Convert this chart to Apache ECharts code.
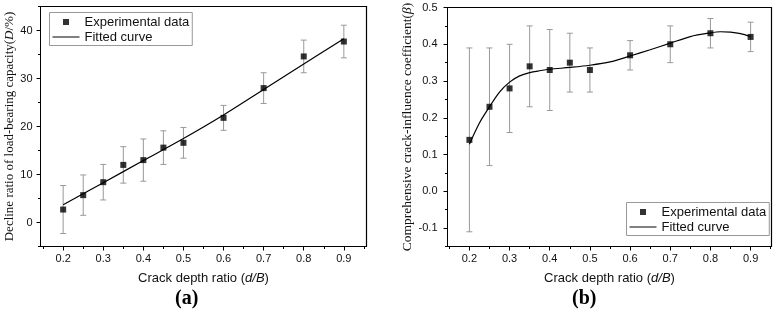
<!DOCTYPE html>
<html>
<head>
<meta charset="utf-8">
<title>Crack depth ratio</title>
<script src="https://cdn.jsdelivr.net/npm/echarts@6/dist/echarts.min.js"></script>
<style>
    html, body { margin: 0; padding: 0; background: #fff; }
    #container { width: 777px; height: 313px; }
</style>
</head>
<body>
<div id="container"></div>
<script>
// 数据 (a): 承载力下降率
var ratioA = [0.2, 0.25, 0.3, 0.35, 0.4, 0.45, 0.5, 0.6, 0.7, 0.8, 0.9];
var declineA = [2.7, 5.7, 8.4, 12.0, 13.0, 15.6, 16.6, 21.8, 28.0, 34.6, 37.7];
var errA = [5.0, 4.2, 3.7, 3.8, 4.4, 3.5, 3.2, 2.6, 3.2, 3.4, 3.4];
var fitXA = [0.2, 0.3, 0.4, 0.5, 0.6, 0.7, 0.8, 0.9];
var fitYA = [3.7, 8.3, 12.9, 17.5, 22.4, 27.7, 33.0, 38.3];

// 数据 (b): 综合裂缝影响系数
var ratioB = [0.2, 0.25, 0.3, 0.35, 0.4, 0.45, 0.5, 0.6, 0.7, 0.8, 0.9];
var coefB = [0.14, 0.23, 0.28, 0.34, 0.33, 0.35, 0.33, 0.37, 0.40, 0.43, 0.42];
var errB = [0.25, 0.16, 0.12, 0.11, 0.11, 0.08, 0.06, 0.04, 0.05, 0.04, 0.04];
var fitXB = [0.2, 0.225, 0.25, 0.275, 0.3, 0.325, 0.35, 0.375, 0.4, 0.45, 0.5, 0.55, 0.6, 0.65, 0.7, 0.75, 0.8, 0.825, 0.85, 0.875, 0.9];
var fitYB = [0.128, 0.186, 0.23, 0.27, 0.297, 0.314, 0.323, 0.328, 0.332, 0.337, 0.343, 0.352, 0.368, 0.385, 0.403, 0.421, 0.431, 0.434, 0.433, 0.429, 0.421];

// 刻度
var xLabels = [0.2, 0.3, 0.4, 0.5, 0.6, 0.7, 0.8, 0.9];
var xMinor = [0.15, 0.25, 0.35, 0.45, 0.55, 0.65, 0.75, 0.85, 0.95];
var yLabelsA = [0, 10, 20, 30, 40];
var yMinorA = [-5, 5, 15, 25, 35, 45];
var yLabelsB = [-0.1, 0.0, 0.1, 0.2, 0.3, 0.4, 0.5];
var yMinorB = [-0.15, -0.05, 0.05, 0.15, 0.25, 0.35, 0.45];

var sans = 'Liberation Sans, Arial, sans-serif';
var serif = 'Liberation Serif, Times New Roman, serif';

function zip(xs, ys) {
    var out = [];
    for (var i = 0; i < xs.length; i++) { out.push([xs[i], ys[i]]); }
    return out;
}
function errRows(xs, ys, es) {
    var out = [];
    for (var i = 0; i < xs.length; i++) { out.push([xs[i], ys[i] - es[i], ys[i] + es[i]]); }
    return out;
}

// 误差棒
function renderErrorBar(params, api) {
    var x = api.value(0);
    var lo = api.coord([x, api.value(1)]);
    var hi = api.coord([x, api.value(2)]);
    var half = 3;
    var st = { stroke: '#999', lineWidth: 1 };
    return {
        type: 'group',
        children: [
            { type: 'line', shape: { x1: lo[0], y1: lo[1], x2: hi[0], y2: hi[1] }, style: st },
            { type: 'line', shape: { x1: hi[0] - half, y1: hi[1], x2: hi[0] + half, y2: hi[1] }, style: st },
            { type: 'line', shape: { x1: lo[0] - half, y1: lo[1], x2: lo[0] + half, y2: lo[1] }, style: st }
        ]
    };
}

function mainX(grid, min, max) {
    return {
        type: 'value', gridIndex: grid, position: 'bottom', min: min, max: max,
        axisLine: { onZero: false, lineStyle: { color: '#000', width: 1 } },
        axisTick: { inside: false, length: 4, customValues: xLabels, lineStyle: { color: '#000' } },
        axisLabel: { customValues: xLabels, margin: 7, color: '#111', fontSize: 11, fontFamily: sans,
            formatter: function (v) { return v.toFixed(1); } },
        splitLine: { show: false },
        name: '{n|Crack depth ratio (}{i|d/B}{n|)}',
        nameLocation: 'middle', nameGap: 25,
        nameTextStyle: {
            rich: {
                n: { fontSize: 13, fontFamily: sans, color: '#111' },
                i: { fontSize: 13, fontFamily: sans, fontStyle: 'italic', color: '#111' }
            }
        }
    };
}
function minorX(grid, min, max) {
    return {
        type: 'value', gridIndex: grid, position: 'bottom', min: min, max: max,
        axisLine: { show: false, onZero: false },
        axisTick: { inside: false, length: 2.5, customValues: xMinor, lineStyle: { color: '#000' } },
        axisLabel: { show: false },
        splitLine: { show: false }
    };
}
// 边框线 (上/右)
function frameAxis(grid, pos, min, max) {
    return {
        type: 'value', gridIndex: grid, position: pos, min: min, max: max,
        axisLine: { show: true, onZero: false, lineStyle: { color: '#000', width: 1.2 } },
        axisTick: { show: false },
        axisLabel: { show: false },
        splitLine: { show: false }
    };
}
function mainY(grid, min, max, labels, digits, margin, name, size) {
    return {
        type: 'value', gridIndex: grid, position: 'left', min: min, max: max,
        axisLine: { show: true, onZero: false, lineStyle: { color: '#000', width: 1 } },
        axisTick: { show: true, inside: false, length: 4, customValues: labels, lineStyle: { color: '#000' } },
        axisLabel: { customValues: labels, margin: margin, color: '#111', fontSize: 11, fontFamily: sans,
            formatter: function (v) { return v.toFixed(digits); } },
        splitLine: { show: false },
        name: name, nameLocation: 'middle', nameGap: 24, nameRotate: 90,
        nameTextStyle: {
            rich: {
                n: { fontSize: size, fontFamily: serif, color: '#111' },
                i: { fontSize: size, fontFamily: serif, fontStyle: 'italic', color: '#111' }
            }
        }
    };
}
function minorY(grid, min, max, ticks) {
    return {
        type: 'value', gridIndex: grid, position: 'left', min: min, max: max,
        axisLine: { show: false, onZero: false },
        axisTick: { show: true, inside: false, length: 2.5, customValues: ticks, lineStyle: { color: '#000' } },
        axisLabel: { show: false },
        splitLine: { show: false }
    };
}
function legendAt(left, top) {
    return {
        left: left, top: top, orient: 'vertical',
        data: [
            { name: 'Experimental data', icon: 'path://M0,0h1v1h-1z' },
            { name: 'Fitted curve', icon: 'path://M0,0h27v1h-27z' }
        ],
        symbolKeepAspect: true,
        itemWidth: 27, itemHeight: 6, itemGap: 2,
        padding: [3, 3, 2, 3],
        borderColor: '#999', borderWidth: 1,
        selectedMode: false,
        textStyle: { fontSize: 13, fontFamily: sans, color: '#111' }
    };
}

var dom = document.getElementById("container");
var myChart = echarts.init(dom, null, { renderer: 'canvas' });
var option = null;

option = {
    animation: false,
    backgroundColor: '#fff',
    title: [
        { text: '(a)', left: 175, top: 289, padding: 0,
          textStyle: { fontSize: 20, fontWeight: 'bold', fontFamily: serif, color: '#000' } },
        { text: '(b)', left: 572, top: 289, padding: 0,
          textStyle: { fontSize: 20, fontWeight: 'bold', fontFamily: serif, color: '#000' } }
    ],
    legend: [legendAt(49.5, 12.5), legendAt(626.5, 202.5)],
    grid: [
        { left: 40.5, top: 6.5, width: 326, height: 240, outerBoundsMode: 'none',
          show: true, borderColor: '#000', borderWidth: 1 },
        { left: 447.5, top: 7.5, width: 324, height: 239, outerBoundsMode: 'none',
          show: true, borderColor: '#000', borderWidth: 1 }
    ],
    xAxis: [
        mainX(0, 0.1435, 0.9565),
        minorX(0, 0.1435, 0.9565),
        frameAxis(0, 'top', 0.1435, 0.9565),
        mainX(1, 0.1455, 0.952),
        minorX(1, 0.1455, 0.952),
        frameAxis(1, 'top', 0.1455, 0.952)
    ],
    yAxis: [
        mainY(0, -5, 45, yLabelsA, 0, 8, '{n|Decline ratio of load-bearing capacity(}{i|D}{n|/%)}', 13),
        minorY(0, -5, 45, yMinorA),
        frameAxis(0, 'right', -5, 45),
        mainY(1, -0.15, 0.5, yLabelsB, 1, 10, '{n|Comprehensive crack-influence coefficient(}{i|β}{n|)}', 13.5),
        minorY(1, -0.15, 0.5, yMinorB),
        frameAxis(1, 'right', -0.15, 0.5)
    ],
    series: [
        {
            type: 'custom', name: 'errA', xAxisIndex: 0, yAxisIndex: 0, z: 1,
            renderItem: renderErrorBar, encode: { x: 0, y: [1, 2] },
            data: errRows(ratioA, declineA, errA)
        },
        {
            type: 'line', name: 'Fitted curve', xAxisIndex: 0, yAxisIndex: 0, z: 2,
            symbol: 'none', smooth: 0.3, color: '#000',
            lineStyle: { color: '#000', width: 1.2 },
            data: zip(fitXA, fitYA)
        },
        {
            type: 'scatter', name: 'Experimental data', xAxisIndex: 0, yAxisIndex: 0, z: 3,
            symbol: 'rect', symbolSize: 6, itemStyle: { color: '#000' },
            data: zip(ratioA, declineA)
        },
        {
            type: 'custom', name: 'errB', xAxisIndex: 3, yAxisIndex: 3, z: 1,
            renderItem: renderErrorBar, encode: { x: 0, y: [1, 2] },
            data: errRows(ratioB, coefB, errB)
        },
        {
            type: 'line', name: 'Fitted curve', xAxisIndex: 3, yAxisIndex: 3, z: 2,
            symbol: 'none', smooth: 0.3, color: '#000',
            lineStyle: { color: '#000', width: 1.2 },
            data: zip(fitXB, fitYB)
        },
        {
            type: 'scatter', name: 'Experimental data', xAxisIndex: 3, yAxisIndex: 3, z: 3,
            symbol: 'rect', symbolSize: 6, itemStyle: { color: '#000' },
            data: zip(ratioB, coefB)
        }
    ]
};
if (option && typeof option === "object") {
    myChart.setOption(option, true);
}
</script>
</body>
</html>
